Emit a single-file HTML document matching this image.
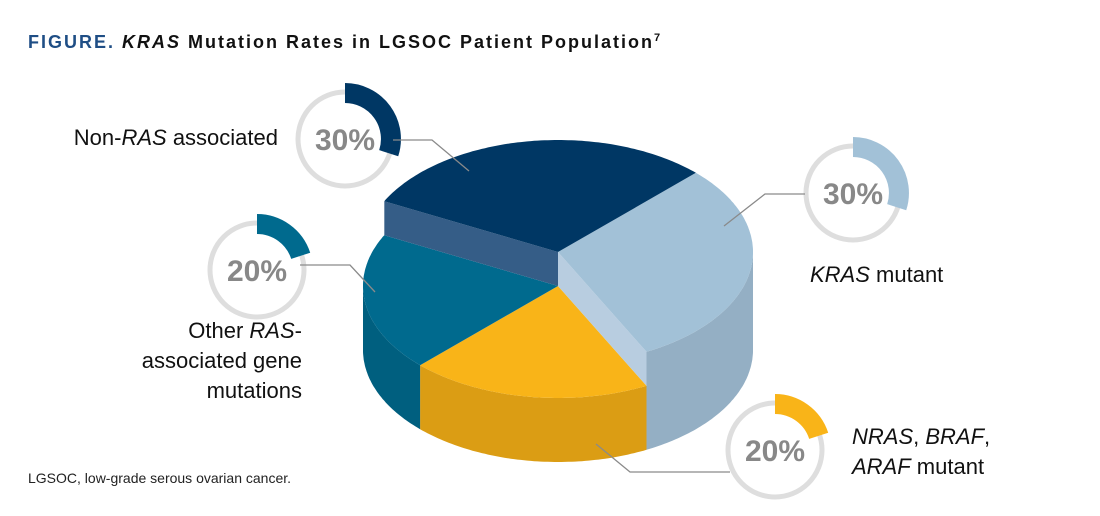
<!DOCTYPE html>
<html><head><meta charset="utf-8"><style>
body{margin:0;background:#fff;width:1100px;height:516px;overflow:hidden}
svg{display:block}
.lbl{font-family:"Liberation Sans",sans-serif;font-size:22px;fill:#111}
.pct{font-family:"Liberation Sans",sans-serif;font-size:30px;font-weight:bold;fill:#888;text-anchor:middle}
</style></head><body>
<svg id="chart" width="1100" height="516" viewBox="0 0 1100 516">
<text x="28" y="48" font-family="Liberation Sans, sans-serif" font-size="18" font-weight="bold" letter-spacing="2"><tspan fill="#1f4e85">FIGURE.</tspan><tspan fill="#111" font-style="italic"> KRAS</tspan><tspan fill="#111"> Mutation Rates in LGSOC Patient Population</tspan><tspan fill="#111" font-size="11" dy="-7">7</tspan></text>
<text x="28" y="483" font-family="Liberation Sans, sans-serif" font-size="14" fill="#222">LGSOC, low-grade serous ovarian cancer.</text>
<g id="pie"></g>
<g id="rings"></g>
<text class="lbl" x="278" y="145" text-anchor="end">Non-<tspan font-style="italic">RAS</tspan> associated</text>
<text class="lbl" x="810" y="282"><tspan font-style="italic">KRAS</tspan> mutant</text>
<text class="lbl" x="302" y="338" text-anchor="end"><tspan x="302">Other <tspan font-style="italic">RAS</tspan>-</tspan><tspan x="302" dy="30">associated gene</tspan><tspan x="302" dy="30">mutations</tspan></text>
<text class="lbl" x="852" y="444"><tspan x="852"><tspan font-style="italic">NRAS</tspan>, <tspan font-style="italic">BRAF</tspan>,</tspan><tspan x="852" dy="30"><tspan font-style="italic">ARAF</tspan> mutant</tspan></text>
<g stroke="#8a8a8a" stroke-width="1.3" fill="none">
<polyline points="393,140 432,140 469,171"/>
<polyline points="805,194 765,194 724,226"/>
<polyline points="300,265 350,265 375,292"/>
<polyline points="596,444 630,472 730,472"/>
</g>
</svg>
<script>
const categories=["KRAS mutant","NRAS, BRAF, ARAF mutant","Other RAS-associated gene mutations","Non-RAS associated"];
const values=[30,20,20,30];
const raised=[true,false,false,true];
const topColors=["#a2c1d7","#f9b418","#006a8e","#003764"];
const sideColors=["#94afc4","#db9d14","#005f7f","#003764"];
const innerColors=["#b8cde0","#b8cde0","#355d87","#355d87"];
const ringCenters=[[853,193],[775,450],[257,270],[345,139]];
const NS="http://www.w3.org/2000/svg";
const cx=558,cyLow=286,lift=34,rx=195,ry=112,depth=64,startT=-45;
const floorY=cyLow+depth;
const total=values.reduce((a,b)=>a+b,0);
function pt(t,cy){const r=t*Math.PI/180;return [cx+rx*Math.cos(r),cy+ry*Math.sin(r)];}
function arcPts(a,b,cy){const p=[];const n=Math.max(2,Math.ceil(Math.abs(b-a)));for(let i=0;i<=n;i++)p.push(pt(a+(b-a)*i/n,cy));return p;}
function poly(points,fill,g,name){const e=document.createElementNS(NS,'path');
e.setAttribute('d','M'+points.map(p=>p[0].toFixed(1)+','+p[1].toFixed(1)).join('L')+'Z');
e.setAttribute('fill',fill);


g.appendChild(e);}
const pie=document.getElementById('pie');
const angles=[];let acc=startT;
values.forEach(v=>{const a=acc;acc+=v/total*360;angles.push([a,acc]);});
// side walls (front half t in [0,180] mod 360)
angles.forEach(([a,b],i)=>{
  const cy=raised[i]?cyLow-lift:cyLow;
  for(const off of [0,360,-360]){
    const s=Math.max(a+off,0),e=Math.min(b+off,180);
    if(e>s){const top=arcPts(s,e,cy);const bot=arcPts(e,s,floorY);poly(top.concat(bot),sideColors[i],pie,'side-wall-'+i);}
  }
});
// lower tops
angles.forEach(([a,b],i)=>{if(!raised[i])poly([[cx,cyLow]].concat(arcPts(a,b,cyLow)),topColors[i],pie,'slice-top-'+i);});
// inner faces of raised slices where neighbours are lower
angles.forEach(([a,b],i)=>{if(!raised[i])return;
  const n=values.length;
  if(!raised[(i+1)%n]){const p=pt(b,cyLow-lift),q=pt(b,cyLow);poly([[cx,cyLow-lift],p,q,[cx,cyLow]],innerColors[i],pie,'inner-face-'+i);}
  if(!raised[(i-1+n)%n]){const p=pt(a,cyLow-lift),q=pt(a,cyLow);poly([[cx,cyLow-lift],p,q,[cx,cyLow]],innerColors[i],pie,'inner-face-start-'+i);}
});
angles.forEach(([a,b],i)=>{if(raised[i])poly([[cx,cyLow-lift]].concat(arcPts(a,b,cyLow-lift)),topColors[i],pie,'slice-top-'+i);});
// rings
const rings=document.getElementById('rings');
values.forEach((v,i)=>{const [x,y]=ringCenters[i];
  const c=document.createElementNS(NS,'circle');
  c.setAttribute('cx',x);c.setAttribute('cy',y);c.setAttribute('r',47);
  c.setAttribute('fill','none');c.setAttribute('stroke','#dedede');c.setAttribute('stroke-width',5);
  
  
  rings.appendChild(c);
  const ang=v/total*2*Math.PI,r=46;
  const ex=x+r*Math.sin(ang),ey=y-r*Math.cos(ang);
  const p=document.createElementNS(NS,'path');
  p.setAttribute('d',`M${x},${y-r}A${r},${r} 0 ${ang>Math.PI?1:0} 1 ${ex.toFixed(1)},${ey.toFixed(1)}`);
  p.setAttribute('fill','none');p.setAttribute('stroke',topColors[i]);p.setAttribute('stroke-width',20);
  
  
  rings.appendChild(p);
  const t=document.createElementNS(NS,'text');
  t.setAttribute('x',x);t.setAttribute('y',y+11);t.setAttribute('class','pct');
  t.textContent=v+'%';
  
  
  rings.appendChild(t);
});
</script>
</body></html>
